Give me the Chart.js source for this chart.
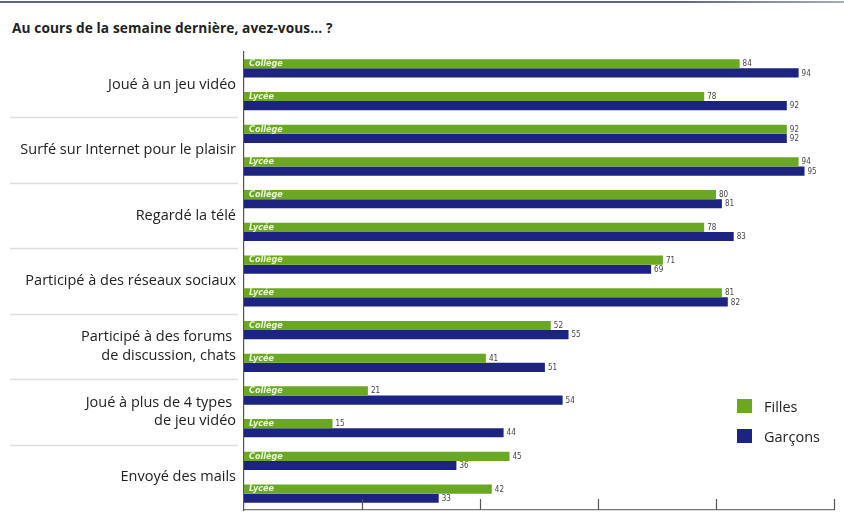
<!DOCTYPE html>
<html lang="fr">
<head>
<meta charset="UTF-8">
<title>Au cours de la semaine dernière, avez-vous... ?</title>
<style>
  *{box-sizing:border-box;margin:0;padding:0}
  body{width:844px;height:518px;background:#fff;font-family:"Open Sans",Arial,sans-serif;color:#222;position:relative;overflow:hidden}
  .rule{position:absolute;left:0;top:1px;width:844px;height:2px;background:linear-gradient(to right,#5e6384 0,#5e6384 80%,#a9acbd 100%)}
  h1{position:absolute;left:12px;top:18px;font-size:13.7px;font-weight:700;color:#222;letter-spacing:.1px}
  canvas{position:absolute;left:0;top:0}
  .legend{position:absolute;left:737px;top:391px;font-size:14.5px;color:#222}
  .legend div{display:flex;align-items:center;height:30px}
  .legend span{display:inline-block;width:15px;height:14px;margin-right:12px}
</style>
</head>
<body>
<div class="rule"></div>
<h1>Au cours de la semaine dernière, avez-vous... ?</h1>
<canvas id="chart" width="844" height="518"></canvas>
<div class="legend">
  <div><span style="background:#6aa823"></span>Filles</div>
  <div><span style="background:#1c2380"></span>Garçons</div>
</div>

<script src="https://cdn.jsdelivr.net/npm/chart.js@4.4.0"></script>
<script>
/* Categories (two rows each: Collège / Lycée) */
const categories = [
  "Joué à un jeu vidéo",
  "Surfé sur Internet pour le plaisir",
  "Regardé la télé",
  "Participé à des réseaux sociaux",
  ["Participé à des forums ", "de discussion, chats"],
  ["Joué à plus de 4 types ", "de jeu vidéo"],
  "Envoyé des mails"
];
const rows = ["Collège","Lycée","Collège","Lycée","Collège","Lycée","Collège","Lycée",
              "Collège","Lycée","Collège","Lycée","Collège","Lycée"];

/* Values (%) */
const filles  = [84,78,92,94,80,78,71,81,52,41,21,15,45,42];
const garcons = [94,92,92,95,81,83,69,82,55,51,54,44,36,33];

/* x ticks (no labels, only marks) */
const xTicks = [20,40,60,80,100];

/* value labels at bar ends */
const valueLabels = {
  id:'valueLabels',
  afterDatasetsDraw(chart){
    const ctx = chart.ctx;
    ctx.save();
    ctx.font = '8px "Liberation Sans Narrow","DejaVu Sans Condensed",Arial,sans-serif';
    ctx.fillStyle = '#444';
    ctx.textAlign = 'left';
    ctx.textBaseline = 'middle';
    chart.data.datasets.forEach((ds,i)=>{
      chart.getDatasetMeta(i).data.forEach((bar,j)=>{
        ctx.fillText(ds.data[j], bar.x + 3, bar.y + 0.5);
      });
    });
    ctx.restore();
  }
};

/* separators left of the axis + upward tick marks on the x axis */
const decor = {
  id:'decor',
  afterDraw(chart){
    const s = chart.scales.y2, x = chart.scales.x, ctx = chart.ctx;
    const bottom = chart.chartArea.bottom;
    ctx.save();
    ctx.strokeStyle = '#dedede';
    ctx.lineWidth = 1.5;
    for(let i=0;i<categories.length-1;i++){
      const yy = Math.round((s.getPixelForTick(i)+s.getPixelForTick(i+1))/2)+0.5;
      ctx.beginPath();
      ctx.moveTo(10,yy);
      ctx.lineTo(s.right-6,yy);
      ctx.stroke();
    }
    ctx.strokeStyle = '#555';
    ctx.lineWidth = 1.2;
    xTicks.forEach(v=>{
      const px = Math.round(x.getPixelForValue(v))+0.5;
      ctx.beginPath();
      ctx.moveTo(px,bottom);
      ctx.lineTo(px,bottom-11);
      ctx.stroke();
    });
    ctx.restore();
  }
};

function noPad(scale){ scale.paddingTop = 0; scale.paddingBottom = 0; }

new Chart(document.getElementById('chart'),{
  type:'bar',
  data:{
    labels:rows,
    datasets:[
      {label:'Filles',data:filles,backgroundColor:'#6aa823',categoryPercentage:0.56,barPercentage:1},
      {label:'Garçons',data:garcons,backgroundColor:'#1c2380',categoryPercentage:0.56,barPercentage:1}
    ]
  },
  options:{
    indexAxis:'y',
    responsive:false,
    animation:false,
    layout:{padding:{left:0,top:52,right:10,bottom:8}},
    plugins:{legend:{display:false},tooltip:{enabled:false}},
    scales:{
      x:{
        min:0,max:100,
        afterFit(scale){ scale.height = 0; },
        ticks:{display:false},
        grid:{display:false,drawTicks:false,tickLength:0},
        border:{display:true,color:'#777',width:1.2}
      },
      y:{
        position:'left',
        weight:0,
        afterFit(scale){ scale.width = 0; noPad(scale); },
        grid:{display:false,drawTicks:false,tickLength:0},
        border:{display:true,color:'#555',width:1.2},
        ticks:{
          mirror:true,z:1,padding:5,labelOffset:-4.5,
          color:'#eaf5d6',
          font:{family:'"Liberation Sans Narrow","DejaVu Sans Condensed",Arial,sans-serif',size:9,weight:'bold',style:'italic'}
        }
      },
      y2:{
        type:'category',
        labels:categories,
        position:'left',
        weight:1,
        offset:true,
        afterFit(scale){ scale.width = 244; noPad(scale); },
        grid:{display:false,drawTicks:false,tickLength:0},
        border:{display:false},
        ticks:{
          padding:8,color:'#222',
          font:{family:'"Open Sans",Arial,sans-serif',size:14.5,lineHeight:1.25}
        }
      }
    }
  },
  plugins:[valueLabels,decor]
});
</script>
</body>
</html>
